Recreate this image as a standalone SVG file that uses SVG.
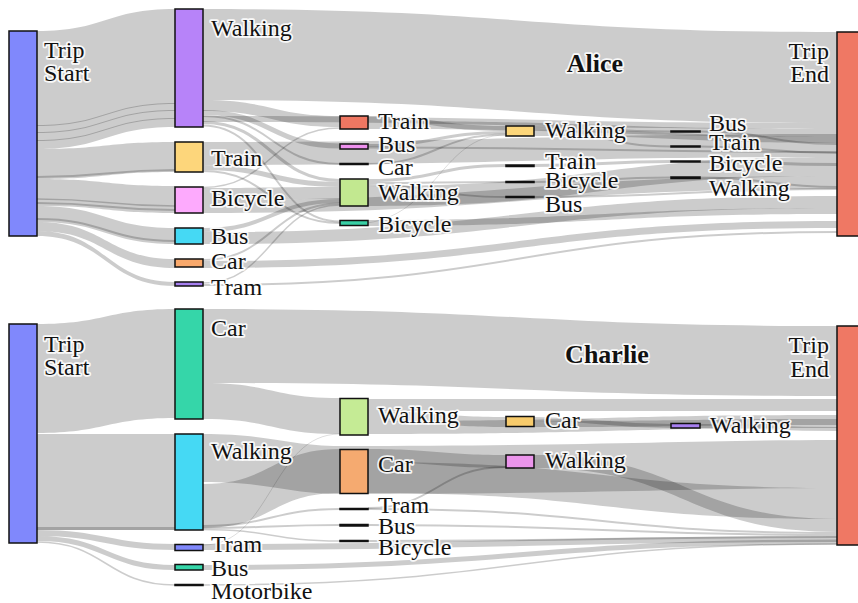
<svg xmlns="http://www.w3.org/2000/svg" width="858" height="603" viewBox="0 0 858 603">
  <style>
    .f { fill: #000; fill-opacity: 0.2; stroke: none; }
    .l { fill: none; stroke: #000; stroke-opacity: 0.2; }
    .lf { fill: none; stroke: #000; stroke-opacity: 0.13; stroke-width: 1; }
    .n { stroke: #111; stroke-width: 1.5; }
    .t { font-family: "Liberation Serif", "Times New Roman", serif; font-size: 24px; fill: #111;
         stroke: #fff; stroke-width: 3.5; stroke-opacity: 0.9; stroke-linejoin: round; paint-order: stroke fill; }
    .h { font-weight: bold; font-size: 26px; text-anchor: middle; }
    .e { text-anchor: end; }
  </style>
  <rect width="858" height="603" fill="#fff"/>

  <!-- ===================== Alice ===================== -->
  <g id="alice-links">
    <!-- Trip Start to first leg -->
    <path class="f" d="M37 31 C106 31 106 9 175 9 L175 104 C106 104 106 126 37 126Z"/>
    <path class="f" d="M37 125 C106 125 106 103 175 103 L175 111 C106 111 106 133 37 133Z"/>
    <path class="f" d="M37 132 C106 132 106 110 175 110 L175 119 C106 119 106 141 37 141Z"/>
    <path class="f" d="M37 140 C106 140 106 118 175 118 L175 127 C106 127 106 149 37 149Z"/>
    <path class="f" d="M37 149 C106 149 106 142 175 142 L175 172 C106 172 106 179 37 179Z"/>
    <path class="l" stroke-width="2" d="M37 177 C106 177 106 170 175 170"/>
    <path class="f" d="M37 179 C106 179 106 186 175 186 L175 213 C106 213 106 206 37 206Z"/>
    <path class="l" stroke-width="2" d="M37 203 C106 203 106 210 175 210"/>
    <path class="l" stroke-width="1.5" d="M37 199 C106 199 106 206 175 206"/>
    <path class="f" d="M37 206 C106 206 106 228 175 228 L175 244 C106 244 106 222 37 222Z"/>
    <path class="l" stroke-width="2" d="M37 219 C106 219 106 241 175 241"/>
    <path class="f" d="M37 222 C106 222 106 259 175 259 L175 268 C106 268 106 231 37 231Z"/>
    <path class="f" d="M37 231 C106 231 106 282 175 282 L175 286 C106 286 106 236 37 236Z"/>

    <!-- first leg onwards -->
    <path class="f" d="M203 9 C520 9 520 32 837 32 L837 123 C520 123 520 100 203 100Z"/>
    <path class="f" d="M203 100 C271.5 100 271.5 116 340 116 L340 127 C271.5 127 271.5 111 203 111Z"/>
    <path class="l" stroke-width="5" d="M203 112.5 C271.5 112.5 271.5 146 340 146"/>
    <path class="l" stroke-width="2" d="M203 116 C271.5 116 271.5 164 340 164"/>
    <path class="f" d="M203 116 C520 116 520 123 837 123 L837 129 C520 129 520 122 203 122Z"/>
    <path class="l" stroke-width="3" d="M203 122.5 C271.5 122.5 271.5 180.5 340 180.5"/>
    <path class="l" stroke-width="2" d="M203 125.5 C271.5 125.5 271.5 221.5 340 221.5"/>
    <path class="f" d="M203 142 C520 142 520 134 837 134 L837 157 C520 157 520 165 203 165Z"/>
    <path class="l" stroke-width="5" d="M203 167.5 C271.5 167.5 271.5 184.5 340 184.5"/>
    <path class="l" stroke-width="2" d="M203 171 C271.5 171 271.5 223 340 223"/>
    <path class="l" stroke-width="1.5" d="M203 187.5 C271.5 187.5 271.5 128 340 128"/>
    <path class="f" d="M203 188 C271.5 188 271.5 187 340 187 L340 199 C271.5 199 271.5 200 203 200Z"/>
    <path class="f" d="M203 200 C520 200 520 176 837 176 L837 189 C520 189 520 213 203 213Z"/>
    <path class="l" stroke-width="4" d="M203 230 C271.5 230 271.5 201 340 201"/>
    <path class="f" d="M203 232 C520 232 520 196 837 196 L837 208 C520 208 520 244 203 244Z"/>
    <path class="l" stroke-width="2" d="M203 260 C271.5 260 271.5 203.5 340 203.5"/>
    <path class="f" d="M203 261 C520 261 520 221 837 221 L837 228 C520 228 520 268 203 268Z"/>
    <path class="l" stroke-width="1.5" d="M203 283 C271.5 283 271.5 205 340 205"/>
    <path class="l" stroke-width="2" d="M203 285 C520 285 520 232 837 232"/>

    <!-- second leg onwards -->
    <path class="f" d="M368 116 C437 116 437 126 506 126 L506 131 C437 131 437 121 368 121Z"/>
    <path class="f" d="M368 121 C602.5 121 602.5 129 837 129 L837 137 C602.5 137 602.5 129 368 129Z"/>
    <path class="l" stroke-width="3" d="M368 145.5 C437 145.5 437 132.5 506 132.5"/>
    <path class="l" stroke-width="2" d="M368 147.5 C602.5 147.5 602.5 152 837 152"/>
    <path class="l" stroke-width="2" d="M368 164 C437 164 437 134.5 506 134.5"/>
    <path class="l" stroke-width="3" d="M368 180.5 C437 180.5 437 165.5 506 165.5"/>
    <path class="l" stroke-width="2" d="M368 183 C437 183 437 182 506 182"/>
    <path class="l" stroke-width="2" d="M368 185 C437 185 437 197 506 197"/>
    <path class="f" d="M368 186 C602.5 186 602.5 157 837 157 L837 176 C602.5 176 602.5 206 368 206Z"/>
    <path class="f" d="M368 220 C602.5 220 602.5 208 837 208 L837 214 C602.5 214 602.5 226 368 226Z"/>
    <path class="lf" d="M352 224 C437 224 437 135 506 135"/>

    <!-- third leg onwards -->
    <path class="l" stroke-width="2" d="M534 127 C602.5 127 602.5 131.5 671 131.5"/>
    <path class="l" stroke-width="2" d="M534 129 C602.5 129 602.5 146.5 671 146.5"/>
    <path class="f" d="M534 130 C685.5 130 685.5 137 837 137 L837 143 C685.5 143 685.5 136 534 136Z"/>
    <path class="l" stroke-width="3" d="M534 165.5 C602.5 165.5 602.5 161.5 671 161.5"/>
    <path class="l" stroke-width="2" d="M534 182 C602.5 182 602.5 177.5 671 177.5"/>
    <path class="l" stroke-width="2" d="M534 197 C685.5 197 685.5 189 837 189"/>

    <!-- fourth leg to Trip End -->
    <path class="l" stroke-width="2" d="M700 131.5 C768.5 131.5 768.5 144 837 144"/>
    <path class="l" stroke-width="2" d="M700 146.5 C768.5 146.5 768.5 153 837 153"/>
    <path class="l" stroke-width="3" d="M700 161.5 C768.5 161.5 768.5 164.5 837 164.5"/>
    <path class="l" stroke-width="2" d="M700 177.5 C768.5 177.5 768.5 187 837 187"/>
  </g>

  <g id="alice-trip-start"><rect class="n" x="9" y="31" width="28" height="205" fill="#8088fc"/></g>
  <g id="alice-l1-walking"><rect class="n" x="175" y="9" width="28" height="118" fill="#b783f9"/></g>
  <g id="alice-l1-train"><rect class="n" x="175" y="142" width="28" height="30" fill="#fdd67b"/></g>
  <g id="alice-l1-bicycle"><rect class="n" x="175" y="187" width="28" height="26" fill="#fdaafd"/></g>
  <g id="alice-l1-bus"><rect class="n" x="175" y="228" width="28" height="16" fill="#45d9f4"/></g>
  <g id="alice-l1-car"><rect class="n" x="175" y="259" width="28" height="8" fill="#f9a96c"/></g>
  <g id="alice-l1-tram"><rect class="n" x="175" y="282" width="28" height="4" fill="#a67ff0"/></g>
  <g id="alice-l2-train"><rect class="n" x="340" y="116" width="28" height="13" fill="#ef7762"/></g>
  <g id="alice-l2-bus"><rect class="n" x="340" y="144" width="28" height="5" fill="#ee91ee"/></g>
  <g id="alice-l2-car"><rect class="n" x="340" y="163.5" width="28" height="1" fill="#000"/></g>
  <g id="alice-l2-walking"><rect class="n" x="340" y="179" width="28" height="27" fill="#c2e890"/></g>
  <g id="alice-l2-bicycle"><rect class="n" x="340" y="220.5" width="28" height="5" fill="#38cfa5"/></g>
  <g id="alice-l3-walking"><rect class="n" x="506" y="126" width="28" height="10" fill="#fcd67a"/></g>
  <g id="alice-l3-train"><rect class="n" x="506" y="165" width="28" height="1.5" fill="#b0506a"/></g>
  <g id="alice-l3-bicycle"><rect class="n" x="506" y="181.5" width="28" height="1" fill="#000"/></g>
  <g id="alice-l3-bus"><rect class="n" x="506" y="196.5" width="28" height="1" fill="#000"/></g>
  <g id="alice-l4-bus"><rect class="n" x="671" y="131" width="29" height="1" fill="#000"/></g>
  <g id="alice-l4-train"><rect class="n" x="671" y="146" width="29" height="1" fill="#000"/></g>
  <g id="alice-l4-bicycle"><rect class="n" x="671" y="161" width="29" height="1" fill="#000"/></g>
  <g id="alice-l4-walking"><rect class="n" x="671" y="177" width="29" height="1.5" fill="#5a6fd0"/></g>
  <g id="alice-trip-end"><rect class="n" x="837" y="32" width="25" height="204" fill="#ef7864"/></g>

  <g id="alice-labels">
    <text class="t" x="44" y="58">Trip</text>
    <text class="t" x="44" y="81">Start</text>
    <text class="t" x="211" y="36">Walking</text>
    <text class="t" x="211" y="166">Train</text>
    <text class="t" x="211" y="206">Bicycle</text>
    <text class="t" x="211" y="244">Bus</text>
    <text class="t" x="211" y="269">Car</text>
    <text class="t" x="211" y="295">Tram</text>
    <text class="t" x="378" y="129">Train</text>
    <text class="t" x="378" y="152">Bus</text>
    <text class="t" x="378" y="175">Car</text>
    <text class="t" x="378" y="200">Walking</text>
    <text class="t" x="378" y="232">Bicycle</text>
    <text class="t" x="545" y="138">Walking</text>
    <text class="t" x="545" y="169">Train</text>
    <text class="t" x="545" y="188">Bicycle</text>
    <text class="t" x="545" y="212">Bus</text>
    <text class="t" x="709" y="131">Bus</text>
    <text class="t" x="709" y="150">Train</text>
    <text class="t" x="709" y="171">Bicycle</text>
    <text class="t" x="709" y="196">Walking</text>
    <text class="t e" x="829" y="59">Trip</text>
    <text class="t e" x="829" y="82">End</text>
    <text class="t h" x="595" y="72">Alice</text>
  </g>

  <!-- ===================== Charlie ===================== -->
  <g id="charlie-links">
    <!-- Trip Start to first leg -->
    <path class="f" d="M37 324 C106 324 106 309 175 309 L175 418 C106 418 106 433 37 433Z"/>
    <path class="f" d="M37 434 L175 434 L175 530 L37 530Z"/>
    <path class="l" stroke-width="3" d="M37 528.5 L175 528.5"/>
    <path class="l" stroke-width="6" d="M37 533 C106 533 106 547 175 547"/>
    <path class="l" stroke-width="5" d="M37 538.5 C106 538.5 106 567.5 175 567.5"/>
    <path class="l" stroke-width="1.5" d="M37 542 C106 542 106 585 175 585"/>

    <!-- first leg onwards -->
    <path class="f" d="M203 309 C520 309 520 326 837 326 L837 396 C520 396 520 383 203 383Z"/>
    <path class="f" d="M203 383 C271.5 383 271.5 398 340 398 L340 434 C271.5 434 271.5 419 203 419Z"/>
    <path class="f" d="M203 434 C270 434 290 446 340 446 C600 446 700 440 837 440 L837 488 C700 488 600 494 340 494 C290 494 270 482 203 482Z"/>
    <path class="f" d="M203 484 C271.5 484 271.5 449 340 449 L340 493 C271.5 493 271.5 528 203 528Z"/>
    <path class="l" stroke-width="2" d="M203 526 C271.5 526 271.5 509 340 509"/>
    <path class="l" stroke-width="2" d="M203 528 C271.5 528 271.5 525 340 525"/>
    <path class="l" stroke-width="1.5" d="M203 529.5 C271.5 529.5 271.5 541 340 541"/>
    <path class="lf" d="M203 545 C271.5 545 271.5 434 340 434"/>
    <path class="l" stroke-width="6" d="M203 547 C520 547 520 539 837 539"/>
    <path class="l" stroke-width="5" d="M203 567.5 C520 567.5 520 542 837 542"/>
    <path class="l" stroke-width="1.5" d="M203 585 C520 585 520 544 837 544"/>

    <!-- second leg onwards -->
    <path class="f" d="M368 399 L837 399 L837 411 L368 411Z"/>
    <path class="f" d="M368 411 C437 411 437 417 506 417 L506 427 C437 427 437 421 368 421Z"/>
    <path class="f" d="M368 421 C602.5 421 602.5 415 837 415 L837 428 C602.5 428 602.5 434 368 434Z"/>
    <path class="f" d="M368 449 C437 449 437 455 506 455 L506 468 C437 468 437 462 368 462Z"/>
    <path class="f" d="M368 462 C602.5 462 602.5 488 837 488 L837 519 C602.5 519 602.5 493 368 493Z"/>
    <path class="l" stroke-width="2" d="M368 509 C602.5 509 602.5 533 837 533"/>
    <path class="l" stroke-width="2" d="M368 508 C437 508 437 467 506 467"/>
    <path class="l" stroke-width="2" d="M368 525 C602.5 525 602.5 535 837 535"/>
    <path class="l" stroke-width="2" d="M368 541 C602.5 541 602.5 537 837 537"/>

    <!-- third and fourth legs onwards -->
    <path class="l" stroke-width="4" d="M534 419 C602.5 419 602.5 426 671 426"/>
    <path class="f" d="M534 421 C685.5 421 685.5 419 837 419 L837 425 C685.5 425 685.5 427 534 427Z"/>
    <path class="f" d="M534 455 C685.5 455 685.5 519 837 519 L837 532 C685.5 532 685.5 468 534 468Z"/>
    <path class="l" stroke-width="4" d="M700 426 C768.5 426 768.5 429 837 429"/>
  </g>

  <g id="charlie-trip-start"><rect class="n" x="9" y="324" width="28" height="219" fill="#8088fc"/></g>
  <g id="charlie-l1-car"><rect class="n" x="175" y="309" width="28" height="110" fill="#35d6a9"/></g>
  <g id="charlie-l1-walking"><rect class="n" x="175" y="434" width="28" height="96" fill="#45d9f4"/></g>
  <g id="charlie-l1-tram"><rect class="n" x="175" y="544.5" width="28" height="6" fill="#8088fc"/></g>
  <g id="charlie-l1-bus"><rect class="n" x="175" y="564.5" width="28" height="5.5" fill="#35d6a9"/></g>
  <g id="charlie-l1-motorbike"><rect class="n" x="175" y="584.5" width="28" height="1" fill="#000"/></g>
  <g id="charlie-l2-walking"><rect class="n" x="340" y="398.5" width="28" height="36.5" fill="#c5eb95"/></g>
  <g id="charlie-l2-car"><rect class="n" x="340" y="449.5" width="28" height="44" fill="#f5aa70"/></g>
  <g id="charlie-l2-tram"><rect class="n" x="340" y="508.5" width="28" height="1" fill="#000"/></g>
  <g id="charlie-l2-bus"><rect class="n" x="340" y="524.5" width="28" height="1.5" fill="#c04040"/></g>
  <g id="charlie-l2-bicycle"><rect class="n" x="340" y="540.5" width="28" height="1" fill="#000"/></g>
  <g id="charlie-l3-car"><rect class="n" x="506" y="416.5" width="28" height="10" fill="#f7cb6c"/></g>
  <g id="charlie-l3-walking"><rect class="n" x="506" y="455" width="28" height="13" fill="#ec95ec"/></g>
  <g id="charlie-l4-walking"><rect class="n" x="671" y="423.5" width="29" height="4.5" fill="#a77ff0"/></g>
  <g id="charlie-trip-end"><rect class="n" x="837" y="326" width="25" height="219" fill="#ef7864"/></g>

  <g id="charlie-labels">
    <text class="t" x="44" y="352">Trip</text>
    <text class="t" x="44" y="375">Start</text>
    <text class="t" x="211" y="336">Car</text>
    <text class="t" x="211" y="459">Walking</text>
    <text class="t" x="211" y="552">Tram</text>
    <text class="t" x="211" y="576">Bus</text>
    <text class="t" x="211" y="599">Motorbike</text>
    <text class="t" x="378" y="423">Walking</text>
    <text class="t" x="378" y="472">Car</text>
    <text class="t" x="378" y="513">Tram</text>
    <text class="t" x="378" y="534">Bus</text>
    <text class="t" x="378" y="555">Bicycle</text>
    <text class="t" x="545" y="428">Car</text>
    <text class="t" x="545" y="468">Walking</text>
    <text class="t" x="710" y="433">Walking</text>
    <text class="t e" x="829" y="353">Trip</text>
    <text class="t e" x="829" y="377">End</text>
    <text class="t h" x="607" y="363">Charlie</text>
  </g>
</svg>
